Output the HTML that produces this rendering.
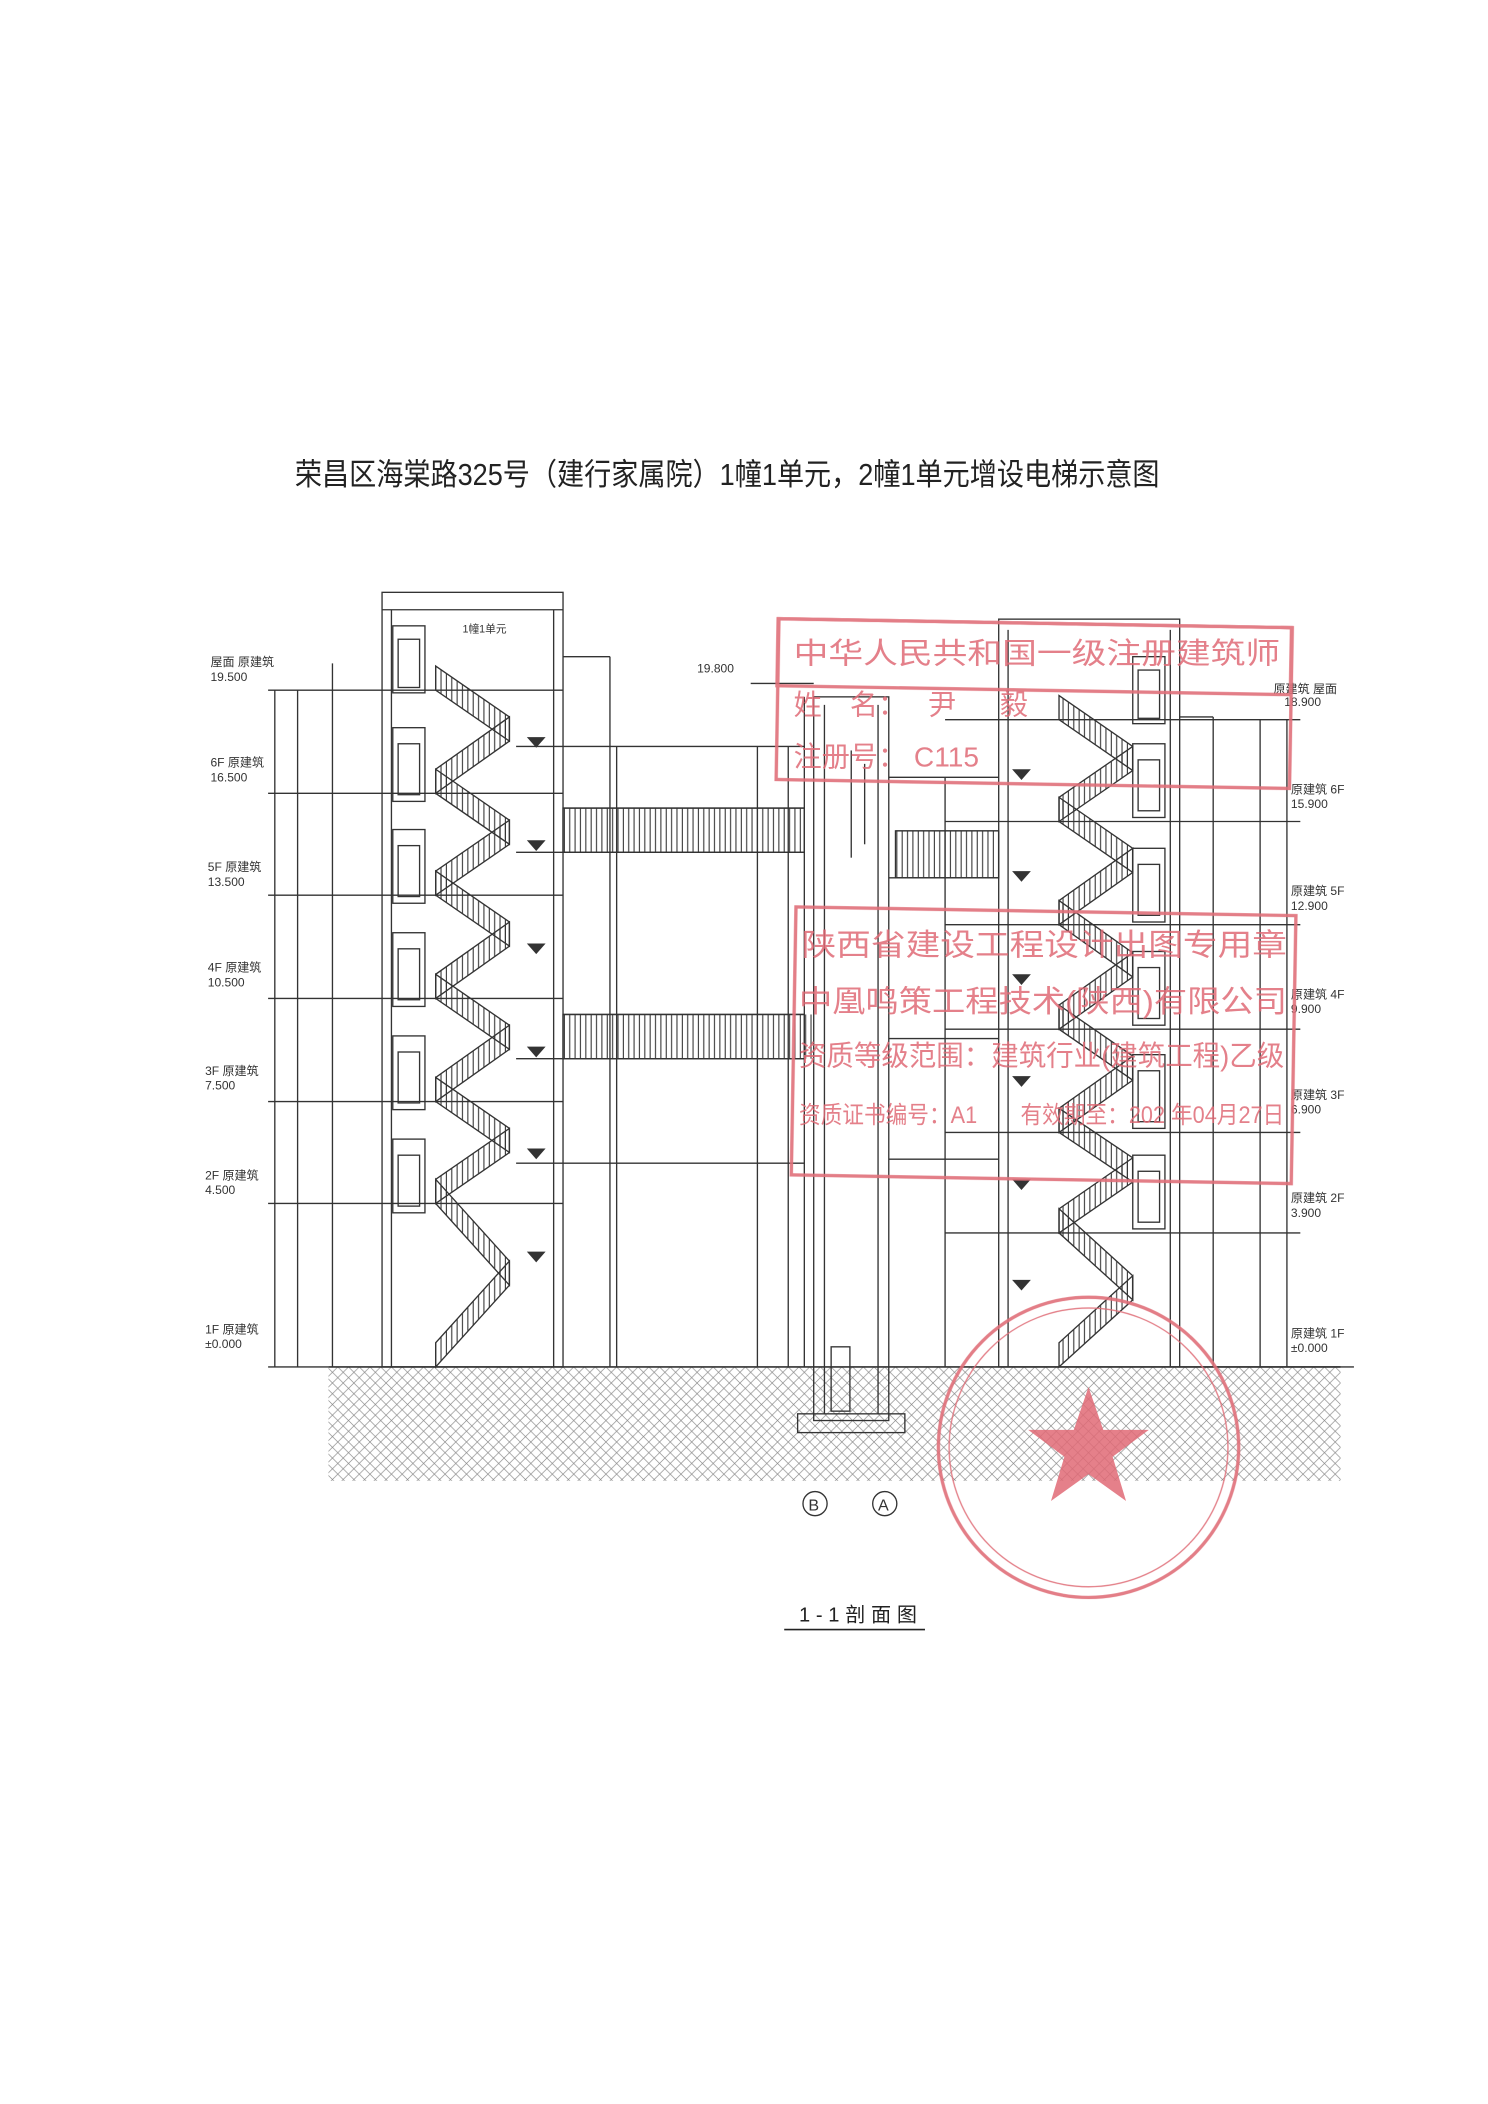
<!DOCTYPE html>
<html><head><meta charset="utf-8"><style>
html,body{margin:0;padding:0;background:#fff}
svg{display:block}
text{font-family:"Liberation Sans","Noto Sans CJK SC",sans-serif}
</style></head><body>
<svg width="1488" height="2104" viewBox="0 0 1110 1570" preserveAspectRatio="none" xmlns="http://www.w3.org/2000/svg">
<defs>
<pattern id="v" width="4" height="10" patternUnits="userSpaceOnUse"><line x1="1" y1="0" x2="1" y2="10" stroke="#333" stroke-width="0.8"/></pattern>
<pattern id="h" width="8" height="8" patternUnits="userSpaceOnUse"><path d="M0 8L8 0M0 0L8 8" stroke="#888" stroke-width="0.5"/></pattern>
</defs>
<rect width="1110" height="1570" fill="#fff"/>
<text x="220" y="362" font-size="23" fill="#222" textLength="645" lengthAdjust="spacingAndGlyphs">荣昌区海棠路325号（建行家属院）1幢1单元，2幢1单元增设电梯示意图</text>

<!-- ground -->
<rect x="245" y="1020" width="755" height="85" fill="url(#h)"/>
<line x1="245" y1="1020" x2="1000" y2="1020" stroke="#333" stroke-width="1.2"/>

<g stroke="#333" stroke-width="1" fill="none">
<rect x="285" y="442" width="135" height="578"/>
<line x1="292" y1="455" x2="292" y2="1020"/><line x1="413" y1="455" x2="413" y2="1020"/>
<line x1="285" y1="455" x2="420" y2="455"/>
<line x1="420" y1="490" x2="455" y2="490"/><line x1="455" y1="490" x2="455" y2="1020"/>
<line x1="248" y1="495" x2="248" y2="1020"/>
<path d="M200 515H420M200 592H420M200 668H420M200 745H420M200 822H420M200 898H420M200 1020H245"/>
<line x1="205" y1="515" x2="205" y2="1020"/><line x1="222" y1="515" x2="222" y2="1020"/>
<rect x="293" y="467" width="24" height="50"/><rect x="297" y="477" width="16" height="36"/>
<rect x="293" y="543" width="24" height="55"/><rect x="297" y="555" width="16" height="38"/>
<rect x="293" y="619" width="24" height="55"/><rect x="297" y="631" width="16" height="38"/>
<rect x="293" y="696" width="24" height="55"/><rect x="297" y="708" width="16" height="38"/>
<rect x="293" y="773" width="24" height="55"/><rect x="297" y="785" width="16" height="38"/>
<rect x="293" y="850" width="24" height="55"/><rect x="297" y="862" width="16" height="38"/>
<path d="M385 557H600M385 636H600M385 790H600M385 868H600M420 603H600M420 757H600"/>
<line x1="460" y1="557" x2="460" y2="1020"/><line x1="565" y1="557" x2="565" y2="1020"/><line x1="588" y1="557" x2="588" y2="1020"/>
<line x1="600" y1="520" x2="600" y2="1020"/>
<rect x="607" y="520" width="56" height="540"/>
<line x1="615" y1="526" x2="615" y2="1055"/><line x1="655" y1="526" x2="655" y2="1055"/>
<rect x="595" y="1055" width="80" height="14"/>
<rect x="620" y="1005" width="14" height="48"/>
<line x1="635" y1="560" x2="635" y2="640"/><line x1="645" y1="570" x2="645" y2="630"/>
<line x1="560" y1="510" x2="607" y2="510"/>
<path d="M663 580H745M663 655H745M663 775H745M663 865H745M668 620H745"/>
<line x1="705" y1="580" x2="705" y2="1020"/>
<rect x="745" y="462" width="135" height="558"/>
<line x1="752" y1="470" x2="752" y2="1020"/><line x1="873" y1="470" x2="873" y2="1020"/>
<line x1="880" y1="535" x2="905" y2="535"/><line x1="905" y1="535" x2="905" y2="1020"/>
<path d="M705 537H970M705 613H970M705 690H970M705 768H970M705 845H970M705 920H970M880 1020H1010"/>
<line x1="940" y1="537" x2="940" y2="1020"/><line x1="960" y1="537" x2="960" y2="1020"/>
<rect x="845" y="490" width="24" height="50"/><rect x="849" y="500" width="16" height="36"/>
<rect x="845" y="555" width="24" height="55"/><rect x="849" y="567" width="16" height="38"/>
<rect x="845" y="633" width="24" height="55"/><rect x="849" y="645" width="16" height="38"/>
<rect x="845" y="710" width="24" height="55"/><rect x="849" y="722" width="16" height="38"/>
<rect x="845" y="787" width="24" height="55"/><rect x="849" y="799" width="16" height="38"/>
<rect x="845" y="862" width="24" height="55"/><rect x="849" y="874" width="16" height="38"/>
</g>

<rect x="420" y="603" width="180" height="33" fill="url(#v)" stroke="#333"/>
<rect x="420" y="757" width="180" height="33" fill="url(#v)" stroke="#333"/>
<rect x="668" y="620" width="77" height="35" fill="url(#v)" stroke="#333"/>
<rect x="600" y="757" width="7" height="33" fill="url(#v)"/>

<g stroke="#333" stroke-width="1">
<polygon points="325,592 380,553 380,535 325,574" fill="url(#v)"/><polygon points="380,553 325,515 325,497 380,535" fill="url(#v)"/>
<polygon points="325,668 380,630 380,612 325,650" fill="url(#v)"/><polygon points="380,630 325,592 325,574 380,612" fill="url(#v)"/>
<polygon points="325,745 380,706 380,688 325,727" fill="url(#v)"/><polygon points="380,706 325,668 325,650 380,688" fill="url(#v)"/>
<polygon points="325,822 380,783 380,765 325,804" fill="url(#v)"/><polygon points="380,783 325,745 325,727 380,765" fill="url(#v)"/>
<polygon points="325,898 380,860 380,842 325,880" fill="url(#v)"/><polygon points="380,860 325,822 325,804 380,842" fill="url(#v)"/>
<polygon points="325,1020 380,959 380,941 325,1002" fill="url(#v)"/><polygon points="380,959 325,898 325,880 380,941" fill="url(#v)"/>
<polygon points="790,613 845,575 845,557 790,595" fill="url(#v)"/><polygon points="845,575 790,537 790,519 845,557" fill="url(#v)"/>
<polygon points="790,690 845,651 845,633 790,672" fill="url(#v)"/><polygon points="845,651 790,613 790,595 845,633" fill="url(#v)"/>
<polygon points="790,768 845,729 845,711 790,750" fill="url(#v)"/><polygon points="845,729 790,690 790,672 845,711" fill="url(#v)"/>
<polygon points="790,845 845,806 845,788 790,827" fill="url(#v)"/><polygon points="845,806 790,768 790,750 845,788" fill="url(#v)"/>
<polygon points="790,920 845,882 845,864 790,902" fill="url(#v)"/><polygon points="845,882 790,845 790,827 845,864" fill="url(#v)"/>
<polygon points="790,1020 845,970 845,952 790,1002" fill="url(#v)"/><polygon points="845,970 790,920 790,902 845,952" fill="url(#v)"/>
</g>

<g fill="#333">
<polygon points="393,550 407,550 400,558"/><polygon points="393,627 407,627 400,635"/><polygon points="393,704 407,704 400,712"/>
<polygon points="393,781 407,781 400,789"/><polygon points="393,857 407,857 400,865"/><polygon points="393,934 407,934 400,942"/>
<polygon points="755,574 769,574 762,582"/><polygon points="755,650 769,650 762,658"/><polygon points="755,727 769,727 762,735"/>
<polygon points="755,803 769,803 762,811"/><polygon points="755,880 769,880 762,888"/><polygon points="755,955 769,955 762,963"/>
</g>

<g font-size="9" fill="#333">
<text x="157" y="497">屋面 原建筑</text><text x="157" y="508">19.500</text>
<text x="157" y="572">6F 原建筑</text><text x="157" y="583">16.500</text>
<text x="155" y="650">5F 原建筑</text><text x="155" y="661">13.500</text>
<text x="155" y="725">4F 原建筑</text><text x="155" y="736">10.500</text>
<text x="153" y="802">3F 原建筑</text><text x="153" y="813">7.500</text>
<text x="153" y="880">2F 原建筑</text><text x="153" y="891">4.500</text>
<text x="153" y="995">1F 原建筑</text><text x="153" y="1006">±0.000</text>
<text x="950" y="517">原建筑 屋面</text><text x="958" y="527">18.900</text>
<text x="963" y="592">原建筑 6F</text><text x="963" y="603">15.900</text>
<text x="963" y="668">原建筑 5F</text><text x="963" y="679">12.900</text>
<text x="963" y="745">原建筑 4F</text><text x="963" y="756">9.900</text>
<text x="963" y="820">原建筑 3F</text><text x="963" y="831">6.900</text>
<text x="963" y="897">原建筑 2F</text><text x="963" y="908">3.900</text>
<text x="963" y="998">原建筑 1F</text><text x="963" y="1009">±0.000</text>
<text x="520" y="502">19.800</text>
<text x="345" y="472" font-size="8">1幢1单元</text>
</g>

<g stroke="#333" fill="none"><circle cx="608" cy="1122" r="9"/><circle cx="660" cy="1122" r="9"/></g>
<text x="603" y="1127" font-size="12" fill="#333">B</text><text x="655" y="1127" font-size="12" fill="#333">A</text>

<text x="596" y="1210" font-size="15" fill="#222" textLength="88">1-1剖面图</text>
<line x1="585" y1="1216" x2="690" y2="1216" stroke="#222" stroke-width="1.2"/>

<g stroke="#e0707a" fill="none" stroke-width="2.5" opacity="0.9">
<rect x="580" y="465" width="383" height="50" transform="rotate(1 770 490)"/>
<rect x="580" y="465" width="383" height="120" transform="rotate(1 770 525)"/>
<rect x="592" y="680" width="373" height="200" transform="rotate(1 780 780)"/>
<circle cx="812" cy="1080" r="112"/><circle cx="812" cy="1080" r="104" stroke-width="1"/>
</g>
<g fill="#e06a76" opacity="0.85">
<text x="592" y="495" font-size="22" textLength="363" lengthAdjust="spacingAndGlyphs">中华人民共和国一级注册建筑师</text>
<text x="592" y="533" font-size="21">姓　名：　 尹 　 毅</text>
<text x="592" y="572" font-size="21">注册号： C115</text>
<text x="598" y="713" font-size="23" textLength="362" lengthAdjust="spacingAndGlyphs">陕西省建设工程设计出图专用章</text>
<text x="596" y="755" font-size="23" textLength="364" lengthAdjust="spacingAndGlyphs">中凰鸣策工程技术(陕西)有限公司</text>
<text x="596" y="795" font-size="21" textLength="362" lengthAdjust="spacingAndGlyphs">资质等级范围：建筑行业(建筑工程)乙级</text>
<text x="596" y="838" font-size="18" textLength="362" lengthAdjust="spacingAndGlyphs">资质证书编号：A1　　有效期至：202 年04月27日</text>
<polygon points="812,1035 823,1067 857,1067 830,1087 840,1120 812,1100 784,1120 794,1087 767,1067 801,1067"/>
</g>
</svg>
</body></html>
